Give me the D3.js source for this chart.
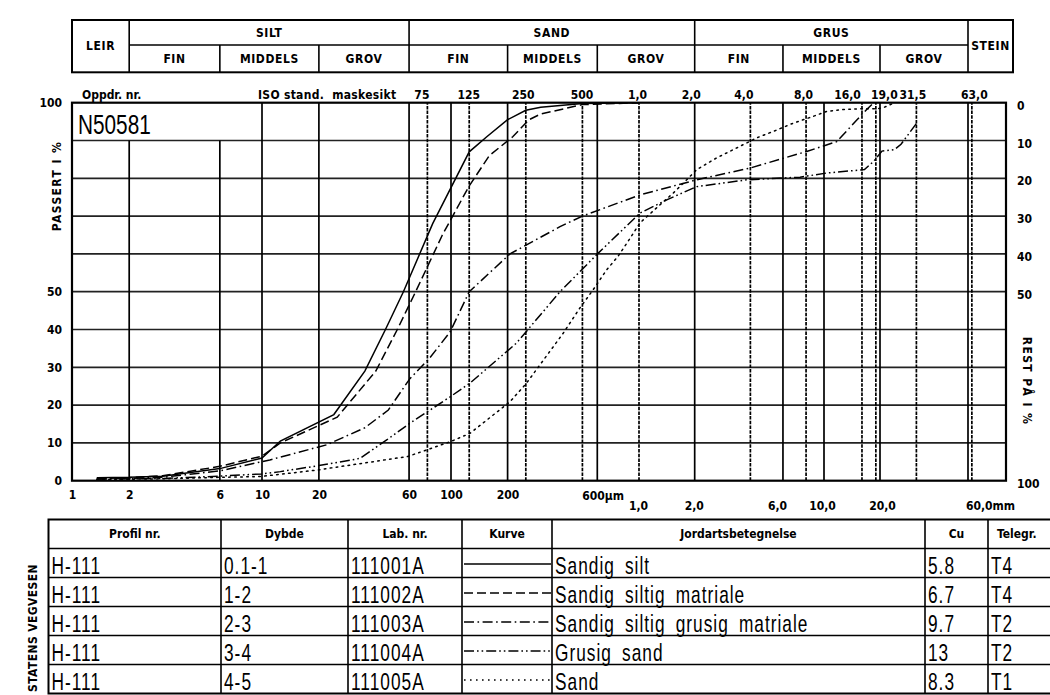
<!DOCTYPE html>
<html><head><meta charset="utf-8">
<script src="https://cdn.jsdelivr.net/npm/d3@7"></script>
<style>
body{margin:0;background:#fff;}
svg{display:block;}
.b{font-family:"DejaVu Sans Condensed","DejaVu Sans",sans-serif;font-weight:bold;font-size:12px;fill:#000;}
.t{font-family:"Liberation Sans",Arimo,sans-serif;fill:#000;}
</style></head><body>
<svg id="c" width="1050" height="695"></svg>
<script>
// ---------- DATA ----------
// grain size in micrometres, percent passing
const curveSandigSilt = [[1.35,0.8],[2,0.9],[3,1.2],[6,3.2],[10,6],[12.5,10.5],[24,17.5],[35,29],[45,40],[56,50],[80,68],[125,87],[155,91],[200,95.5],[250,98],[300,98.8],[500,99.8],[1000,100]];
const curveSandigSiltigMatriale = [[1.35,0.6],[2,0.8],[3,1.3],[6,3.8],[10,6.5],[12.5,10],[25,16.8],[40,29],[52,40],[65,50],[90,65],[125,78],[160,86],[213,91],[260,95.5],[300,97],[500,99.5],[1000,100]];
const curveSandigSiltigGrusig = [[1.35,0.5],[2,0.6],[3,0.9],[6,2.6],[11,5.5],[22,9.5],[35,14],[46.6,18.7],[60.6,27],[77,32.4],[99,39.4],[125,50],[206,60],[380,67.2],[500,70],[1012,75.6],[2050,79.6],[3980,82.7],[8060,87.1],[11700,89.7],[16960,98.2],[18500,100]];
const curveGrusigSand = [[1.35,0.4],[3,0.6],[6,1.2],[10,1.8],[12.5,2.4],[20,4],[33,5.9],[45.7,10.8],[60.6,15.2],[99,22.2],[126,25.8],[223,36.4],[380,50],[607,60.2],[1012,70.8],[1412,74.3],[2050,77.8],[3820,79.6],[7420,80.3],[10340,81.4],[16500,82.3],[18500,84.5],[20500,87.2],[24000,87.6],[26000,89],[31500,94.5]];
const curveSand = [[1.35,0.3],[3,0.5],[6,0.9],[9.8,1.1],[19.5,2.8],[59,6.4],[99,10.3],[126,12.5],[206,20.9],[252,25.8],[395,39],[485,45.7],[570,50.5],[673,55.8],[772,59.3],[874,63.3],[1012,68.2],[1299,73],[1532,76.1],[1811,79.6],[2051,82.3],[2630,85.4],[3240,87.6],[3660,88.9],[4330,90.7],[5320,92.4],[6830,94.6],[8760,96.4],[10340,97.7],[12700,98.2],[15600,98.4],[18800,98.4],[20700,98.6],[24000,100]];

const mainFractions = ["LEIR","SILT","SAND","GRUS","STEIN"];
const mainBounds = [1,2,60,2000,60000];
const subLabels = ["FIN","MIDDELS","GROV"];
const subBounds = [6,20,200,600,6000,20000];

const solidGrid = [2,6,10,20,60,100,200,600,2000,6000,10000,20000,60000];
const sieveSizes = [75,125,250,500,1000,4000,8000,16000,19000,31500,63000];
const topLabelValues = [75,125,250,500,1000,2000,4000,8000,16000,19000,31500,63000];
const topLabelTexts = ["75","125","250","500","1,0","2,0","4,0","8,0","16,0","19,0","31,5","63,0"];
const umTickValues = [1,2,6,10,20,60,100,200];
const mmTickValues = [1000,2000,6000,10000,20000,60000];
const mmTickTexts = ["1,0","2,0","6,0","10,0","20,0","60,0mm"];
const passTicks = [0,10,20,30,40,50,100];
const restTicks = [0,10,20,30,40,50,100];
const hGrid = [10,20,30,40,50,60,70,80,90];

const tableHeaders = ["Profil nr.","Dybde","Lab. nr.","Kurve","Jordartsbetegnelse","Cu","Telegr."];
const profil = ["H-111","H-111","H-111","H-111","H-111"];
const dybde = ["0.1-1","1-2","2-3","3-4","4-5"];
const labNr = ["111001A","111002A","111003A","111004A","111005A"];
const jordart = ["Sandig silt","Sandig siltig matriale","Sandig siltig grusig matriale","Grusig sand","Sand"];
const cuValues = ["5.8","6.7","9.7","13","8.3"];
const telegr = ["T4","T4","T2","T2","T1"];
const oppdrag = "N50581";

// ---------- LAYOUT ----------
const svg = d3.select("#c");
const X0 = 72, X1 = 1006, YT = 102.7, YB = 480.7;
const x = d3.scaleLog().domain([1,10,100,1000,10000,20000,60000,97000]).range([72,262,451,639,824,880,968,1006]);
const y = d3.scaleLinear().domain([0,100]).range([YB,YT]);
const yRest = d3.scaleLinear().domain([0,100]).range([YT,YB]);

const curves = [
  {data: curveSandigSilt, dash: null},
  {data: curveSandigSiltigMatriale, dash: "9,4"},
  {data: curveSandigSiltigGrusig, dash: "10,3.5,1.6,3.5"},
  {data: curveGrusigSand, dash: "10,3,1.6,3,1.6,3"},
  {data: curveSand, dash: "1.6,4.4"}
];

// narrow thin "CAD" text helper
function narrowText(parent, str, px, py, size, sx) {
  return parent.append("text").attr("class","t")
    .attr("transform",`translate(${px},${py}) scale(${sx},1)`)
    .attr("font-size",size).text(str);
}

// ---------- HEADER TABLE ----------
const hTop = 20, hMid = 45, hBot = 72.3, hRight = 1013;
const hg = svg.append("g");
const mb = mainBounds.map(v => x(v)).concat([hRight]);
hg.append("rect").attr("x", X0).attr("y", hTop).attr("width", hRight - X0).attr("height", hBot - hTop)
  .attr("fill","none").attr("stroke","#000").attr("stroke-width",2);
hg.append("line").attr("x1", mb[1]).attr("x2", mb[4]).attr("y1", hMid).attr("y2", hMid).attr("stroke","#000").attr("stroke-width",1.6);
mb.slice(1,5).forEach(px => hg.append("line").attr("x1",px).attr("x2",px).attr("y1",hTop).attr("y2",hBot).attr("stroke","#000").attr("stroke-width",1.6));
subBounds.forEach(v => hg.append("line").attr("x1",x(v)).attr("x2",x(v)).attr("y1",hMid).attr("y2",hBot).attr("stroke","#000").attr("stroke-width",1.6));
mainFractions.forEach((lab,i) => {
  const single = (i === 0 || i === 4);
  hg.append("text").attr("class","b").attr("x",(mb[i]+mb[i+1])/2).attr("y", single ? (hTop+hBot)/2 : (hTop+hMid)/2)
    .attr("text-anchor","middle").attr("dominant-baseline","central").attr("letter-spacing",0.6).text(lab);
});
const subEdges = [[2,6],[6,20],[20,60],[60,200],[200,600],[600,2000],[2000,6000],[6000,20000],[20000,60000]];
subEdges.forEach((e,i) => {
  hg.append("text").attr("class","b").attr("x",(x(e[0])+x(e[1]))/2).attr("y",(hMid+hBot)/2)
    .attr("text-anchor","middle").attr("dominant-baseline","central").attr("letter-spacing",0.6).text(subLabels[i%3]);
});

// ---------- GRID ----------
const gg = svg.append("g");
hGrid.forEach(p => gg.append("line").attr("x1",X0).attr("x2",X1).attr("y1",y(p)).attr("y2",y(p)).attr("stroke","#222").attr("stroke-width",1.7));
solidGrid.forEach(v => gg.append("line").attr("x1",x(v)).attr("x2",x(v)).attr("y1",YB).attr("y2", v < 10 ? y(90) : YT).attr("stroke","#000").attr("stroke-width",1.7));
sieveSizes.forEach(v => gg.append("line").attr("x1",x(v)).attr("x2",x(v)).attr("y1",YB).attr("y2",YT).attr("stroke","#000").attr("stroke-width",1.7).attr("stroke-dasharray","3.5,1.2"));
gg.append("rect").attr("x",X0).attr("y",YT).attr("width",X1-X0).attr("height",YB-YT).attr("fill","none").attr("stroke","#000").attr("stroke-width",2.2);

// ---------- CURVES ----------
const line = d3.line().x(d => x(d[0])).y(d => y(d[1]));
curves.forEach(c => {
  svg.append("path").attr("d", line(c.data)).attr("fill","none").attr("stroke","#000")
    .attr("stroke-width",1.5).attr("stroke-dasharray", c.dash).attr("stroke-linecap", c.dash === "1.6,4.4" ? "round" : "butt");
});

// ---------- AXES ----------
const axL = svg.append("g").attr("transform",`translate(${X0},0)`)
  .call(d3.axisLeft(y).tickValues(passTicks).tickSize(0).tickPadding(10).tickFormat(d3.format("d")));
const axR = svg.append("g").attr("transform",`translate(${X1},0)`)
  .call(d3.axisRight(yRest).tickValues(restTicks).tickSize(0).tickPadding(11).tickFormat(d3.format("d")));
axR.selectAll(".tick text").attr("dy","0.55em");
const axB = svg.append("g").attr("transform",`translate(0,${YB})`)
  .call(d3.axisBottom(x).tickValues(umTickValues).tickSize(0).tickPadding(10).tickFormat(d3.format("d")));
const axM = svg.append("g").attr("transform",`translate(0,${YB})`)
  .call(d3.axisBottom(x).tickValues(mmTickValues).tickSize(0).tickPadding(21).tickFormat((d,i) => mmTickTexts[i]));
const mmShift = [-1,-1,-6,-2,2,22];
axM.selectAll(".tick text").attr("dx",(d,i) => mmShift[i]);
const axT = svg.append("g").attr("transform",`translate(0,${YT})`)
  .call(d3.axisTop(x).tickValues(topLabelValues).tickSize(0).tickPadding(4).tickFormat((d,i) => topLabelTexts[i]));
const topShift = [-6,-1,-3,-1,-2,-4,-7,-3,-15,8,-4,2];
axT.selectAll(".tick text").attr("dx",(d,i) => topShift[i]);
[axL,axR,axB,axM,axT].forEach(a => {
  a.select(".domain").remove();
  a.selectAll(".tick text").attr("class","b").attr("font-family",null).attr("font-size",null).attr("fill",null);
});
svg.append("text").attr("class","b").attr("x", x(600) - 15).attr("y", YB + 19).text("600μm");

svg.append("text").attr("class","b").attr("x",82).attr("y",99).text("Oppdr. nr.");
svg.append("text").attr("class","b").attr("x",258).attr("y",99).attr("xml:space","preserve").attr("letter-spacing",0.3).text("ISO stand.  maskesikt");
narrowText(svg, oppdrag, 78, 134, 27, 0.77);
svg.append("text").attr("class","b").attr("font-size",13).attr("letter-spacing",1.4)
  .attr("transform",`translate(61,186) rotate(-90)`).attr("text-anchor","middle").text("PASSERT I %");
svg.append("text").attr("class","b").attr("font-size",13).attr("letter-spacing",1.4)
  .attr("transform",`translate(1023,381) rotate(90)`).attr("text-anchor","middle").text("REST PÅ I %");

// ---------- BOTTOM TABLE ----------
const cols = [48.5,221,348,462,552,925,988,1090];
const tTop = 519.5, tHead = 548.5, rowH = 29;
const tg = svg.append("g");
const nRows = profil.length;
const tBot = tHead + nRows*rowH;
tg.append("rect").attr("x",cols[0]).attr("y",tTop).attr("width",cols[7]-cols[0]).attr("height",tBot-tTop)
  .attr("fill","none").attr("stroke","#000").attr("stroke-width",2);
cols.slice(1,7).forEach(c => tg.append("line").attr("x1",c).attr("x2",c).attr("y1",tTop).attr("y2",tBot).attr("stroke","#000").attr("stroke-width",1.6));
d3.range(nRows).forEach(i => tg.append("line").attr("x1",cols[0]).attr("x2",cols[7]).attr("y1",tHead+i*rowH).attr("y2",tHead+i*rowH).attr("stroke","#000").attr("stroke-width",1.6));
tableHeaders.forEach((h,i) => {
  const last = i === 6;
  tg.append("text").attr("class","b").attr("x", last ? cols[6]+9 : (cols[i]+cols[i+1])/2).attr("y",(tTop+tHead)/2)
    .attr("text-anchor", last ? "start" : "middle").attr("dominant-baseline","central").attr("font-size",12.5).text(h);
});
const textCols = [profil, dybde, labNr, null, jordart, cuValues, telegr];
d3.range(nRows).forEach(r => {
  const top = tHead + r*rowH;
  textCols.forEach((arr,ci) => {
    if (!arr) return;
    narrowText(tg, arr[r], cols[ci]+3, top+25.5, 24, 0.72)
      .attr("letter-spacing",1.4).attr("word-spacing",6);
  });
  tg.append("line").attr("x1",cols[3]+2).attr("x2",cols[4]-1).attr("y1",top+rowH/2+1).attr("y2",top+rowH/2+1)
    .attr("stroke","#000").attr("stroke-width",1.3).attr("stroke-dasharray",curves[r].dash);
});
svg.append("text").attr("class","b").attr("font-size",13.5).attr("letter-spacing",0.4).attr("transform","translate(37,628) rotate(-90)")
  .attr("text-anchor","middle").text("STATENS VEGVESEN");
</script>
</body></html>
